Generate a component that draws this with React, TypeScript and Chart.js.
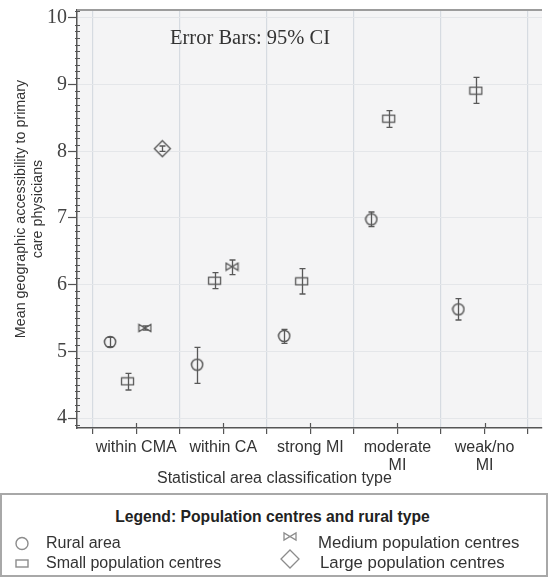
import React, { useEffect, useRef } from 'react';
import { Chart, registerables } from 'chart.js';

Chart.register(...registerables);

// ---------- data ----------
const categories: string[][] = [['within CMA'], ['within CA'], ['strong MI'], ['moderate', 'MI'], ['weak/no', 'MI']];
const groupNames = ['Rural area', 'Small population centres', 'Medium population centres', 'Large population centres'];
const groupOffsets = [-0.3, -0.1, 0.1, 0.3];

const ruralMean = [5.14, 4.8, 5.23, 6.98, 5.63];
const ruralLow = [5.07, 4.52, 5.12, 6.87, 5.47];
const ruralHigh = [5.21, 5.06, 5.33, 7.09, 5.79];

const smallMean = [4.55, 6.06, 6.05, 8.49, 8.91];
const smallLow = [4.42, 5.94, 5.86, 8.36, 8.72];
const smallHigh = [4.67, 6.18, 6.24, 8.61, 9.11];

const mediumMean = [5.35, 6.27, null, null, null];
const mediumLow = [5.32, 6.15, null, null, null];
const mediumHigh = [5.38, 6.37, null, null, null];

const largeMean = [8.04, null, null, null, null];
const largeLow = [8.0, null, null, null, null];
const largeHigh = [8.08, null, null, null, null];

const yMin = 3.85;
const yMax = 10.12;
const xMin = -0.68;
const xMax = 4.66;

const MARK = '#585858';

function isInt(v: number) {
  return Math.abs(v - Math.round(v)) < 1e-6;
}

function makeShape(kind: string): HTMLCanvasElement {
  const c = document.createElement('canvas');
  const ctx = c.getContext('2d')!;
  if (kind === 'circle') {
    c.width = 14; c.height = 14;
    ctx.strokeStyle = MARK; ctx.lineWidth = 1.5;
    ctx.beginPath(); ctx.arc(7, 7, 5.6, 0, Math.PI * 2); ctx.stroke();
  } else if (kind === 'rect') {
    c.width = 15; c.height = 10;
    ctx.strokeStyle = MARK; ctx.lineWidth = 1.3;
    ctx.strokeRect(1.5, 1.5, 12, 7);
  } else if (kind === 'bowtie') {
    c.width = 15; c.height = 10;
    ctx.strokeStyle = MARK; ctx.lineWidth = 1.3;
    ctx.beginPath();
    ctx.moveTo(1.5, 1.5); ctx.lineTo(1.5, 8.5); ctx.lineTo(13.5, 1.5); ctx.lineTo(13.5, 8.5); ctx.closePath();
    ctx.stroke();
  } else {
    c.width = 19; c.height = 19;
    ctx.strokeStyle = MARK; ctx.lineWidth = 1.4;
    ctx.beginPath();
    ctx.moveTo(9.5, 1.5); ctx.lineTo(17.5, 9.5); ctx.lineTo(9.5, 17.5); ctx.lineTo(1.5, 9.5); ctx.closePath();
    ctx.stroke();
  }
  return c;
}

function buildData(mean: (number | null)[], low: (number | null)[], high: (number | null)[], offset: number) {
  const out: any[] = [];
  mean.forEach((m, i) => {
    if (m == null) return;
    out.push({ x: i + offset, y: m, lo: low[i], hi: high[i] });
  });
  return out;
}

const decorPlugin = {
  id: 'decor',
  beforeDraw(chart: any) {
    const { ctx, chartArea } = chart;
    ctx.save();
    ctx.fillStyle = '#ffffff';
    ctx.fillRect(0, 0, chart.width, chart.height);
    ctx.fillStyle = '#f4f4f5';
    ctx.fillRect(chartArea.left, chartArea.top, chartArea.right - chartArea.left, chartArea.bottom - chartArea.top);
    ctx.restore();
  },
  afterDatasetsDraw(chart: any) {
    const { ctx } = chart;
    const yScale = chart.scales.y;
    ctx.save();
    ctx.strokeStyle = MARK;
    ctx.lineWidth = 1.3;
    chart.data.datasets.forEach((ds: any, d: number) => {
      const meta = chart.getDatasetMeta(d);
      meta.data.forEach((el: any, i: number) => {
        const raw = ds.data[i];
        if (!raw || raw.lo == null) return;
        const x = Math.round(el.x) + 0.5;
        const yh = yScale.getPixelForValue(raw.hi);
        const yl = yScale.getPixelForValue(raw.lo);
        ctx.beginPath();
        ctx.moveTo(x, yh); ctx.lineTo(x, yl);
        ctx.moveTo(x - 3, yh); ctx.lineTo(x + 3, yh);
        ctx.moveTo(x - 3, yl); ctx.lineTo(x + 3, yl);
        ctx.stroke();
      });
    });
    ctx.restore();
  },
  afterDraw(chart: any) {
    const { ctx, chartArea } = chart;
    const xScale = chart.scales.x;
    const yScale = chart.scales.y;
    ctx.save();
    // top border
    ctx.strokeStyle = '#9c9c9c';
    ctx.lineWidth = 2;
    ctx.beginPath();
    ctx.moveTo(chartArea.left, chartArea.top);
    ctx.lineTo(chartArea.right, chartArea.top);
    ctx.stroke();
    // minor y ticks
    ctx.strokeStyle = '#555';
    ctx.lineWidth = 1;
    for (let k = Math.ceil(yMin * 10); k <= Math.floor(yMax * 10); k++) {
      if (k % 10 === 0) continue;
      const y = Math.round(yScale.getPixelForValue(k / 10)) + 0.5;
      ctx.beginPath();
      ctx.moveTo(chartArea.left - 2, y);
      ctx.lineTo(chartArea.left + 3, y);
      ctx.stroke();
    }
    // inner part of category ticks
    ctx.lineWidth = 1.2;
    categories.forEach((_, i) => {
      const x = Math.round(xScale.getPixelForValue(i)) + 0.5;
      ctx.beginPath();
      ctx.moveTo(x, chartArea.bottom - 5);
      ctx.lineTo(x, chartArea.bottom);
      ctx.stroke();
    });
    // annotation
    ctx.fillStyle = '#333';
    ctx.font = '20.5px "Liberation Serif"';
    ctx.textAlign = 'left';
    ctx.textBaseline = 'middle';
    ctx.fillText('Error Bars: 95% CI', 170, 39);
    // x title
    ctx.font = '16px "Liberation Sans"';
    ctx.fillStyle = '#333';
    ctx.fillText('Statistical area classification type', 157, 479);
    // y title
    ctx.translate(29.5, 209);
    ctx.rotate(-Math.PI / 2);
    ctx.textAlign = 'center';
    ctx.font = '14.3px "Liberation Sans"';
    ctx.fillText('Mean geographic accessibility to primary', 0, -8.5);
    ctx.fillText('care physicians', 0, 8.5);
    ctx.restore();
  },
};

export default function App() {
  const ref = useRef<HTMLCanvasElement | null>(null);

  useEffect(() => {
    if (!ref.current) return;
    const shapes = ['circle', 'rect', 'bowtie', 'diamond'].map(makeShape);
    const series = [
      buildData(ruralMean, ruralLow, ruralHigh, groupOffsets[0]),
      buildData(smallMean, smallLow, smallHigh, groupOffsets[1]),
      buildData(mediumMean, mediumLow, mediumHigh, groupOffsets[2]),
      buildData(largeMean, largeLow, largeHigh, groupOffsets[3]),
    ];
    const chart = new Chart(ref.current, {
      type: 'scatter',
      data: {
        datasets: series.map((data, g) => ({
          label: groupNames[g],
          data,
          pointStyle: shapes[g] as any,
          pointRadius: 6,
          pointHoverRadius: 6,
        })),
      },
      options: {
        animation: false,
        responsive: false,
        devicePixelRatio: 1,
        layout: { padding: { top: 10, left: 0, right: 0, bottom: 0 } },
        plugins: { legend: { display: false }, tooltip: { enabled: false } },
        scales: {
          x: {
            type: 'linear',
            min: xMin,
            max: xMax,
            afterBuildTicks: (s: any) => {
              const t: any[] = [];
              for (let k = -1; k <= 9; k++) t.push({ value: k / 2 });
              s.ticks = t;
            },
            afterFit: (s: any) => {
              s.height = 64;
              s.paddingLeft = 0;
              s.paddingRight = 0;
            },
            border: { color: '#555', width: 1.5 },
            grid: {
              color: (c: any) => (c.tick && !isInt(c.tick.value) ? '#d6dbe1' : 'rgba(0,0,0,0)'),
              lineWidth: 1.2,
              tickColor: '#555',
              tickLength: 6,
              tickWidth: 1.2,
            },
            ticks: {
              autoSkip: false,
              maxRotation: 0,
              padding: 4,
              color: '#333',
              font: { family: 'Liberation Sans', size: 16, lineHeight: 1.15 },
              callback: (v: any) => (isInt(Number(v)) ? categories[Math.round(Number(v))] : ''),
            },
          },
          y: {
            type: 'linear',
            min: yMin,
            max: yMax,
            afterBuildTicks: (s: any) => {
              const t: any[] = [];
              for (let k = Math.ceil(yMin); k <= Math.floor(yMax); k++) t.push({ value: k });
              s.ticks = t;
            },
            afterFit: (s: any) => {
              s.width = 77;
              s.paddingTop = 0;
              s.paddingBottom = 0;
            },
            border: { color: '#555', width: 1.5 },
            grid: {
              color: '#e4e6e9',
              lineWidth: 1,
              tickColor: '#555',
              tickLength: 9,
              tickWidth: 1.2,
            },
            ticks: {
              autoSkip: false,
              padding: 1,
              color: '#444',
              font: { family: 'Liberation Serif', size: 20 },
              callback: (v: any) => String(Math.round(Number(v))),
            },
          },
        },
      },
      plugins: [decorPlugin],
    });
    return () => chart.destroy();
  }, []);

  const legendText: React.CSSProperties = {
    position: 'absolute',
    fontFamily: '"Liberation Sans", Arial, sans-serif',
    fontSize: '16px',
    color: '#333',
    lineHeight: '18px',
    whiteSpace: 'nowrap',
  };
  const sym = '#8c8c8c';

  return (
    <div style={{ position: 'absolute', left: 0, top: 0, width: 549, height: 579, background: '#fff', overflow: 'hidden' }}>
      <canvas ref={ref} width={549} height={492} style={{ position: 'absolute', left: 0, top: 0, width: 549, height: 492 }} />
      <div
        style={{
          position: 'absolute',
          left: 0,
          top: 493,
          width: 548,
          height: 84,
          boxSizing: 'border-box',
          border: '2px solid #a8a8a8',
        }}
      />
      <div
        style={{
          position: 'absolute',
          left: 0,
          top: 507,
          width: 545,
          textAlign: 'center',
          fontFamily: '"Liberation Sans", Arial, sans-serif',
          fontWeight: 'bold',
          fontSize: '15.7px',
          lineHeight: '20px',
          color: '#222',
        }}
      >
        Legend: Population centres and rural type
      </div>
      <svg width={549} height={579} style={{ position: 'absolute', left: 0, top: 0 }}>
        <circle cx={22} cy={543.5} r={6} fill="none" stroke={sym} strokeWidth={1.4} />
        <rect x={16} y={560} width={12} height={7} fill="none" stroke={sym} strokeWidth={1.4} />
        <path d="M284 533 L284 540 L296 533 L296 540 Z" fill="none" stroke={sym} strokeWidth={1.3} />
        <path d="M290 550 L299 559 L290 568 L281 559 Z" fill="none" stroke={sym} strokeWidth={1.3} />
      </svg>
      <div style={{ ...legendText, left: 46, top: 534 }}>Rural area</div>
      <div style={{ ...legendText, left: 46, top: 554 }}>Small population centres</div>
      <div style={{ ...legendText, left: 318, top: 534, fontSize: '16.8px' }}>Medium population centres</div>
      <div style={{ ...legendText, left: 320, top: 554, fontSize: '16.8px' }}>Large population centres</div>
    </div>
  );
}
